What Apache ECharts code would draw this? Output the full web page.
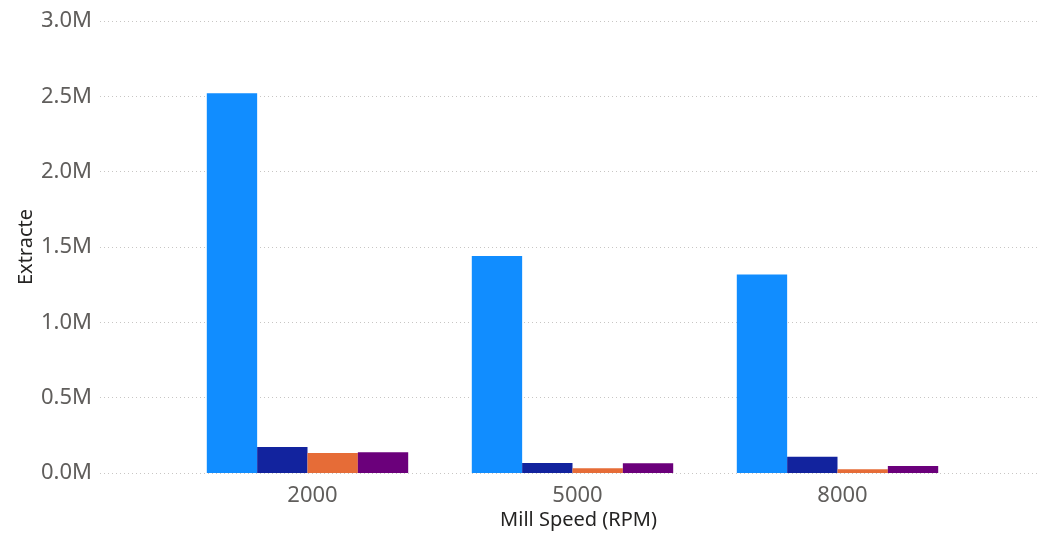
<!DOCTYPE html>
<html><head><meta charset="utf-8">
<script src="https://cdn.jsdelivr.net/npm/echarts@6/dist/echarts.min.js"></script>
<style>html,body{margin:0;padding:0;background:#fff}#c{width:1046px;height:536px}</style>
</head><body><div id="c"></div>
<script>
const categories = ['2000', '5000', '8000'];
const seriesA = [2.52e6, 1.44e6, 1.317e6];
const seriesB = [0.173e6, 0.066e6, 0.108e6];
const seriesC = [0.133e6, 0.031e6, 0.025e6];
const seriesD = [0.137e6, 0.064e6, 0.046e6];
const colors = ['#118DFF', '#12239E', '#E66C37', '#6B007B'];

const chart = echarts.init(document.getElementById('c'));
const FONT = '"Noto Sans", "Open Sans", sans-serif';
const fmt = v => (v / 1e6).toFixed(1) + 'M';
const mk = (data, i) => ({
  type: 'bar', xAxisIndex: 1, yAxisIndex: 1, data: data,
  itemStyle: { color: colors[i] }, barGap: '0%', barCategoryGap: '24%'
});
chart.setOption({
  animation: false,
  grid: [
    { left: 100, right: 6, top: 21, bottom: 63, containLabel: false, outerBoundsMode: 'none' },
    { left: 175, width: 795, top: 21, bottom: 63, containLabel: false, outerBoundsMode: 'none' }
  ],
  xAxis: [
    { gridIndex: 0, type: 'value', show: false, min: 0, max: 1 },
    { gridIndex: 1, type: 'category', data: categories,
      axisLine: { show: false }, axisTick: { show: false },
      axisLabel: { color: '#605E5C', fontSize: 22, fontFamily: FONT, margin: 12, padding: [0, 0, 0, 10] },
      name: 'Mill Speed (RPM)', nameLocation: 'middle', nameGap: 37, nameMoveOverlap: false,
      nameTextStyle: { color: '#252423', fontSize: 20, fontFamily: FONT, padding: [0, 0, 0, 12] } }
  ],
  yAxis: [
    { gridIndex: 0, type: 'value', min: 0, max: 3e6, interval: 0.5e6,
      axisLine: { show: false }, axisTick: { show: false },
      axisLabel: { formatter: fmt, color: '#605E5C', fontSize: 22, fontFamily: FONT, margin: 8 },
      splitLine: { lineStyle: { color: '#C8C6C4', type: [1, 3], width: 1 } },
      name: 'Extracte', nameLocation: 'middle', nameGap: 64, nameMoveOverlap: false,
      nameTextStyle: { color: '#252423', fontSize: 20, fontFamily: FONT } },
    { gridIndex: 1, type: 'value', min: 0, max: 3e6, interval: 0.5e6, show: false,
      splitLine: { show: false } }
  ],
  series: [mk(seriesA, 0), mk(seriesB, 1), mk(seriesC, 2), mk(seriesD, 3)]
});
</script></body></html>
